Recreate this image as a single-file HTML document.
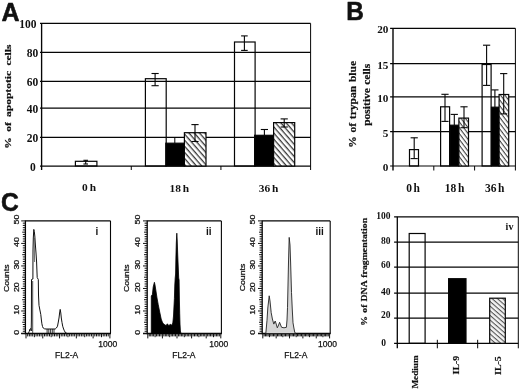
<!DOCTYPE html>
<html><head><meta charset="utf-8"><title>Figure</title>
<style>
html,body{margin:0;padding:0;background:#fff;}
body{width:520px;height:390px;overflow:hidden;}
svg{display:block;filter:blur(0.35px);}
</style></head>
<body>
<svg width="520" height="390" viewBox="0 0 520 390">
<rect x="0" y="0" width="520" height="390" fill="#fff"/>
<defs>
<pattern id="hA" patternUnits="userSpaceOnUse" width="4" height="4" patternTransform="rotate(49)">
<rect width="4" height="4" fill="#fff"/><line x1="0" y1="0.7" x2="4" y2="0.7" stroke="#1a1a1a" stroke-width="1.15"/></pattern>
<pattern id="hB" patternUnits="userSpaceOnUse" width="3.5" height="3.5" patternTransform="rotate(53)">
<rect width="3.5" height="3.5" fill="#fff"/><line x1="0" y1="0.6" x2="3.5" y2="0.6" stroke="#222" stroke-width="0.95"/></pattern>
<pattern id="hD" patternUnits="userSpaceOnUse" width="3.5" height="3.5" patternTransform="rotate(41)">
<rect width="3.5" height="3.5" fill="#f4f4f4"/><line x1="0" y1="0.6" x2="3.5" y2="0.6" stroke="#333" stroke-width="0.9"/></pattern>
</defs>
<text x="1.50" y="20.70" font-family='"Liberation Sans", sans-serif' font-size="25.0" font-weight="bold" text-anchor="start" fill="#111" stroke="#111" stroke-width="0.55" stroke-linejoin="round">A</text>
<text transform="translate(346.30 20.00) scale(0.96 1)" x="0" y="0" font-family='"Liberation Sans", sans-serif' font-size="25.4" font-weight="bold" text-anchor="start" fill="#111" stroke="#111" stroke-width="0.55" stroke-linejoin="round">B</text>
<text transform="translate(1.00 211.10) scale(0.97 1)" x="0" y="0" font-family='"Liberation Sans", sans-serif' font-size="25.4" font-weight="bold" text-anchor="start" fill="#111" stroke="#111" stroke-width="0.55" stroke-linejoin="round">C</text>
<line x1="40.00" y1="23.40" x2="310.60" y2="23.40" stroke="#050505" stroke-width="1.25"/>
<line x1="40.00" y1="52.40" x2="310.60" y2="52.40" stroke="#050505" stroke-width="1.25"/>
<line x1="40.00" y1="81.30" x2="310.60" y2="81.30" stroke="#050505" stroke-width="1.25"/>
<line x1="40.00" y1="108.10" x2="310.60" y2="108.10" stroke="#050505" stroke-width="1.25"/>
<line x1="40.00" y1="137.40" x2="310.60" y2="137.40" stroke="#050505" stroke-width="1.25"/>
<line x1="40.00" y1="166.00" x2="310.60" y2="166.00" stroke="#050505" stroke-width="1.25"/>
<line x1="41.60" y1="23.40" x2="41.60" y2="170.00" stroke="#050505" stroke-width="1.35"/>
<line x1="310.60" y1="23.40" x2="310.60" y2="170.00" stroke="#050505" stroke-width="1.0"/>
<line x1="131.27" y1="166.00" x2="131.27" y2="170.00" stroke="#050505" stroke-width="1.0"/>
<line x1="220.93" y1="166.00" x2="220.93" y2="170.00" stroke="#050505" stroke-width="1.0"/>
<text x="36.40" y="28.20" font-family='"Liberation Serif", serif' font-size="11.5" font-weight="bold" text-anchor="end" fill="#111">100</text>
<text x="38.30" y="57.10" font-family='"Liberation Serif", serif' font-size="11.5" font-weight="bold" text-anchor="end" fill="#111">80</text>
<text x="38.30" y="86.00" font-family='"Liberation Serif", serif' font-size="11.5" font-weight="bold" text-anchor="end" fill="#111">60</text>
<text x="38.30" y="112.80" font-family='"Liberation Serif", serif' font-size="11.5" font-weight="bold" text-anchor="end" fill="#111">40</text>
<text x="38.30" y="142.10" font-family='"Liberation Serif", serif' font-size="11.5" font-weight="bold" text-anchor="end" fill="#111">20</text>
<text x="35.70" y="171.00" font-family='"Liberation Serif", serif' font-size="11.5" font-weight="bold" text-anchor="end" fill="#111">0</text>
<rect x="75.40" y="161.30" width="21.50" height="4.70" fill="none" stroke="#050505" stroke-width="1.2"/>
<line x1="85.70" y1="160.30" x2="85.70" y2="164.00" stroke="#050505" stroke-width="1.1"/>
<line x1="83.40" y1="160.30" x2="88.00" y2="160.30" stroke="#050505" stroke-width="1.1"/>
<line x1="83.40" y1="164.00" x2="88.00" y2="164.00" stroke="#050505" stroke-width="1.1"/>
<rect x="145.40" y="78.70" width="20.80" height="87.30" fill="none" stroke="#050505" stroke-width="1.2"/>
<line x1="155.10" y1="73.50" x2="155.10" y2="85.70" stroke="#050505" stroke-width="1.1"/>
<line x1="151.50" y1="73.50" x2="158.70" y2="73.50" stroke="#050505" stroke-width="1.1"/>
<line x1="151.50" y1="85.70" x2="158.70" y2="85.70" stroke="#050505" stroke-width="1.1"/>
<rect x="165.80" y="143.20" width="18.60" height="22.80" fill="#000" stroke="#050505" stroke-width="1.2"/>
<line x1="174.80" y1="137.70" x2="174.80" y2="143.20" stroke="#050505" stroke-width="1.0"/>
<rect x="184.40" y="132.70" width="21.60" height="33.30" fill="url(#hA)" stroke="#050505" stroke-width="1.2"/>
<line x1="195.00" y1="124.60" x2="195.00" y2="141.50" stroke="#050505" stroke-width="1.1"/>
<line x1="191.40" y1="124.60" x2="198.60" y2="124.60" stroke="#050505" stroke-width="1.1"/>
<line x1="191.40" y1="141.50" x2="198.60" y2="141.50" stroke="#050505" stroke-width="1.1"/>
<rect x="234.50" y="42.00" width="20.60" height="124.00" fill="none" stroke="#050505" stroke-width="1.2"/>
<line x1="244.40" y1="35.90" x2="244.40" y2="50.40" stroke="#050505" stroke-width="1.1"/>
<line x1="241.10" y1="35.90" x2="247.70" y2="35.90" stroke="#050505" stroke-width="1.1"/>
<line x1="241.10" y1="50.40" x2="247.70" y2="50.40" stroke="#050505" stroke-width="1.1"/>
<rect x="254.60" y="135.30" width="19.00" height="30.70" fill="#000" stroke="#050505" stroke-width="1.2"/>
<line x1="264.40" y1="129.50" x2="264.40" y2="135.30" stroke="#050505" stroke-width="1.1"/>
<line x1="260.80" y1="129.50" x2="268.00" y2="129.50" stroke="#050505" stroke-width="1.1"/>
<rect x="273.60" y="122.60" width="21.10" height="43.40" fill="url(#hA)" stroke="#050505" stroke-width="1.2"/>
<line x1="284.20" y1="118.90" x2="284.20" y2="127.00" stroke="#050505" stroke-width="1.1"/>
<line x1="280.60" y1="118.90" x2="287.80" y2="118.90" stroke="#050505" stroke-width="1.1"/>
<line x1="280.60" y1="127.00" x2="287.80" y2="127.00" stroke="#050505" stroke-width="1.1"/>
<text x="89.00" y="190.90" font-family='"Liberation Serif", serif' font-size="11.4" font-weight="bold" text-anchor="middle" fill="#111" word-spacing="-0.8">0 h</text>
<text x="179.40" y="191.80" font-family='"Liberation Serif", serif' font-size="11.4" font-weight="bold" text-anchor="middle" fill="#111" word-spacing="-1">18 h</text>
<text x="268.60" y="191.80" font-family='"Liberation Serif", serif' font-size="11.4" font-weight="bold" text-anchor="middle" fill="#111" word-spacing="-1">36 h</text>
<text transform="translate(10.80 96.60) rotate(-90) scale(1.28 1)" x="0" y="0" font-family='"Liberation Serif", serif' font-size="9.0" font-weight="bold" text-anchor="middle" fill="#111" word-spacing="1.9" stroke="#111" stroke-width="0.2">% of apoptotic cells</text>
<line x1="390.10" y1="28.30" x2="515.40" y2="28.30" stroke="#050505" stroke-width="1.2"/>
<line x1="390.10" y1="63.60" x2="515.40" y2="63.60" stroke="#050505" stroke-width="1.2"/>
<line x1="390.10" y1="96.80" x2="515.40" y2="96.80" stroke="#050505" stroke-width="1.2"/>
<line x1="390.10" y1="131.70" x2="515.40" y2="131.70" stroke="#050505" stroke-width="1.2"/>
<line x1="390.10" y1="166.00" x2="515.40" y2="166.00" stroke="#050505" stroke-width="1.2"/>
<line x1="393.00" y1="28.30" x2="393.00" y2="170.50" stroke="#050505" stroke-width="1.4"/>
<line x1="515.40" y1="28.30" x2="515.40" y2="170.50" stroke="#050505" stroke-width="1.0"/>
<line x1="433.80" y1="166.00" x2="433.80" y2="170.50" stroke="#050505" stroke-width="1.0"/>
<line x1="474.60" y1="166.00" x2="474.60" y2="170.50" stroke="#050505" stroke-width="1.0"/>
<text x="388.40" y="33.20" font-family='"Liberation Serif", serif' font-size="11.2" font-weight="bold" text-anchor="end" fill="#111">20</text>
<text x="388.40" y="68.50" font-family='"Liberation Serif", serif' font-size="11.2" font-weight="bold" text-anchor="end" fill="#111">15</text>
<text x="388.40" y="101.70" font-family='"Liberation Serif", serif' font-size="11.2" font-weight="bold" text-anchor="end" fill="#111">10</text>
<text x="388.40" y="136.60" font-family='"Liberation Serif", serif' font-size="11.2" font-weight="bold" text-anchor="end" fill="#111">5</text>
<text x="388.40" y="170.90" font-family='"Liberation Serif", serif' font-size="11.2" font-weight="bold" text-anchor="end" fill="#111">0</text>
<rect x="409.50" y="149.60" width="9.00" height="16.40" fill="none" stroke="#050505" stroke-width="1.2"/>
<line x1="414.20" y1="137.80" x2="414.20" y2="158.60" stroke="#050505" stroke-width="1.1"/>
<line x1="410.60" y1="137.80" x2="417.80" y2="137.80" stroke="#050505" stroke-width="1.1"/>
<line x1="410.60" y1="158.60" x2="417.80" y2="158.60" stroke="#050505" stroke-width="1.1"/>
<rect x="440.60" y="106.80" width="9.00" height="59.20" fill="none" stroke="#050505" stroke-width="1.2"/>
<line x1="445.00" y1="94.30" x2="445.00" y2="121.40" stroke="#050505" stroke-width="1.1"/>
<line x1="441.40" y1="94.30" x2="448.60" y2="94.30" stroke="#050505" stroke-width="1.1"/>
<line x1="441.40" y1="121.40" x2="448.60" y2="121.40" stroke="#050505" stroke-width="1.1"/>
<rect x="450.00" y="125.20" width="8.60" height="40.80" fill="#000" stroke="#050505" stroke-width="1.2"/>
<line x1="454.30" y1="114.40" x2="454.30" y2="125.20" stroke="#050505" stroke-width="1.1"/>
<line x1="450.70" y1="114.40" x2="457.90" y2="114.40" stroke="#050505" stroke-width="1.1"/>
<rect x="458.90" y="118.10" width="9.60" height="47.90" fill="url(#hB)" stroke="#050505" stroke-width="1.2"/>
<line x1="464.00" y1="106.80" x2="464.00" y2="127.70" stroke="#050505" stroke-width="1.1"/>
<line x1="460.40" y1="106.80" x2="467.60" y2="106.80" stroke="#050505" stroke-width="1.1"/>
<line x1="460.40" y1="127.70" x2="467.60" y2="127.70" stroke="#050505" stroke-width="1.1"/>
<rect x="482.10" y="64.50" width="9.00" height="101.50" fill="none" stroke="#050505" stroke-width="1.2"/>
<line x1="486.60" y1="45.20" x2="486.60" y2="85.40" stroke="#050505" stroke-width="1.1"/>
<line x1="483.00" y1="45.20" x2="490.20" y2="45.20" stroke="#050505" stroke-width="1.1"/>
<line x1="483.00" y1="85.40" x2="490.20" y2="85.40" stroke="#050505" stroke-width="1.1"/>
<rect x="491.50" y="107.20" width="7.60" height="58.80" fill="#000" stroke="#050505" stroke-width="1.2"/>
<line x1="494.90" y1="89.90" x2="494.90" y2="107.20" stroke="#050505" stroke-width="1.1"/>
<line x1="491.30" y1="89.90" x2="498.50" y2="89.90" stroke="#050505" stroke-width="1.1"/>
<rect x="499.10" y="94.50" width="9.60" height="71.50" fill="url(#hB)" stroke="#050505" stroke-width="1.2"/>
<line x1="503.70" y1="73.60" x2="503.70" y2="113.90" stroke="#050505" stroke-width="1.1"/>
<line x1="500.10" y1="73.60" x2="507.30" y2="73.60" stroke="#050505" stroke-width="1.1"/>
<line x1="500.10" y1="113.90" x2="507.30" y2="113.90" stroke="#050505" stroke-width="1.1"/>
<text x="413.10" y="192.30" font-family='"Liberation Serif", serif' font-size="11.5" font-weight="bold" text-anchor="middle" fill="#111" word-spacing="-1.2">0 h</text>
<text x="454.60" y="192.30" font-family='"Liberation Serif", serif' font-size="11.5" font-weight="bold" text-anchor="middle" fill="#111" word-spacing="-1.2">18 h</text>
<text x="494.70" y="192.30" font-family='"Liberation Serif", serif' font-size="11.5" font-weight="bold" text-anchor="middle" fill="#111" word-spacing="-1.2">36 h</text>
<text transform="translate(356.00 104.35) rotate(-90) scale(1.18 1)" x="0" y="0" font-family='"Liberation Serif", serif' font-size="9.8" font-weight="bold" text-anchor="middle" fill="#111" word-spacing="0.7" stroke="#111" stroke-width="0.2">% of trypan blue</text>
<text transform="translate(370.20 94.75) rotate(-90) scale(1.2 1)" x="0" y="0" font-family='"Liberation Serif", serif' font-size="9.6" font-weight="bold" text-anchor="middle" fill="#111" word-spacing="0.3" stroke="#111" stroke-width="0.2">positive cells</text>
<line x1="25.40" y1="220.90" x2="110.50" y2="220.90" stroke="#050505" stroke-width="1.1"/>
<line x1="110.50" y1="220.90" x2="110.50" y2="333.50" stroke="#050505" stroke-width="1.1"/>
<line x1="25.40" y1="220.40" x2="25.40" y2="334.20" stroke="#050505" stroke-width="1.3"/>
<line x1="21.20" y1="333.50" x2="111.00" y2="333.50" stroke="#050505" stroke-width="1.4"/>
<path d="M21.20 220.90H25.40M22.80 223.15H25.40M22.80 225.40H25.40M22.80 227.66H25.40M22.80 229.91H25.40M22.20 232.16H25.40M22.80 234.41H25.40M22.80 236.66H25.40M22.80 238.92H25.40M22.80 241.17H25.40M21.20 243.42H25.40M22.80 245.67H25.40M22.80 247.92H25.40M22.80 250.18H25.40M22.80 252.43H25.40M22.20 254.68H25.40M22.80 256.93H25.40M22.80 259.18H25.40M22.80 261.44H25.40M22.80 263.69H25.40M21.20 265.94H25.40M22.80 268.19H25.40M22.80 270.44H25.40M22.80 272.70H25.40M22.80 274.95H25.40M22.20 277.20H25.40M22.80 279.45H25.40M22.80 281.70H25.40M22.80 283.96H25.40M22.80 286.21H25.40M21.20 288.46H25.40M22.80 290.71H25.40M22.80 292.96H25.40M22.80 295.22H25.40M22.80 297.47H25.40M22.20 299.72H25.40M22.80 301.97H25.40M22.80 304.22H25.40M22.80 306.48H25.40M22.80 308.73H25.40M21.20 310.98H25.40M22.80 313.23H25.40M22.80 315.48H25.40M22.80 317.74H25.40M22.80 319.99H25.40M22.20 322.24H25.40M22.80 324.49H25.40M22.80 326.74H25.40M22.80 329.00H25.40M22.80 331.25H25.40M21.20 333.50H25.40M26.00 333.50V338.40M27.68 333.50V336.40M29.36 333.50V336.40M31.03 333.50V336.40M32.71 333.50V336.40M34.39 333.50V337.20M36.07 333.50V336.40M37.75 333.50V336.40M39.42 333.50V336.40M41.10 333.50V336.40M42.78 333.50V338.40M44.46 333.50V336.40M46.14 333.50V336.40M47.81 333.50V336.40M49.49 333.50V336.40M51.17 333.50V337.20M52.85 333.50V336.40M54.53 333.50V336.40M56.20 333.50V336.40M57.88 333.50V336.40M59.56 333.50V338.40M61.24 333.50V336.40M62.92 333.50V336.40M64.59 333.50V336.40M66.27 333.50V336.40M67.95 333.50V337.20M69.63 333.50V336.40M71.31 333.50V336.40M72.98 333.50V336.40M74.66 333.50V336.40M76.34 333.50V338.40M78.02 333.50V336.40M79.70 333.50V336.40M81.37 333.50V336.40M83.05 333.50V336.40M84.73 333.50V337.20M86.41 333.50V336.40M88.09 333.50V336.40M89.76 333.50V336.40M91.44 333.50V336.40M93.12 333.50V338.40M94.80 333.50V336.40M96.48 333.50V336.40M98.15 333.50V336.40M99.83 333.50V336.40M101.51 333.50V337.20M103.19 333.50V336.40M104.87 333.50V336.40M106.54 333.50V336.40M108.22 333.50V336.40M109.90 333.50V338.40" stroke="#111" stroke-width="1.0" fill="none"/>
<text transform="translate(18.50 219.60) rotate(-90) scale(1.16 1)" x="0" y="0" font-family='"Liberation Sans", sans-serif' font-size="7.7" font-weight="normal" text-anchor="middle" fill="#111" stroke="#111" stroke-width="0.25">50</text>
<text transform="translate(18.50 242.12) rotate(-90) scale(1.16 1)" x="0" y="0" font-family='"Liberation Sans", sans-serif' font-size="7.7" font-weight="normal" text-anchor="middle" fill="#111" stroke="#111" stroke-width="0.25">40</text>
<text transform="translate(18.50 264.64) rotate(-90) scale(1.16 1)" x="0" y="0" font-family='"Liberation Sans", sans-serif' font-size="7.7" font-weight="normal" text-anchor="middle" fill="#111" stroke="#111" stroke-width="0.25">30</text>
<text transform="translate(18.50 287.16) rotate(-90) scale(1.16 1)" x="0" y="0" font-family='"Liberation Sans", sans-serif' font-size="7.7" font-weight="normal" text-anchor="middle" fill="#111" stroke="#111" stroke-width="0.25">20</text>
<text transform="translate(18.50 309.68) rotate(-90) scale(1.16 1)" x="0" y="0" font-family='"Liberation Sans", sans-serif' font-size="7.7" font-weight="normal" text-anchor="middle" fill="#111" stroke="#111" stroke-width="0.25">10</text>
<text transform="translate(18.50 332.20) rotate(-90) scale(1.16 1)" x="0" y="0" font-family='"Liberation Sans", sans-serif' font-size="7.7" font-weight="normal" text-anchor="middle" fill="#111" stroke="#111" stroke-width="0.25">0</text>
<text transform="translate(9.00 278.30) rotate(-90) scale(1.09 1)" x="0" y="0" font-family='"Liberation Sans", sans-serif' font-size="8.0" font-weight="normal" text-anchor="middle" fill="#111" stroke="#111" stroke-width="0.25">Counts</text>
<text x="107.80" y="346.80" font-family='"Liberation Sans", sans-serif' font-size="8.5" font-weight="normal" text-anchor="middle" fill="#111" stroke="#111" stroke-width="0.25">1000</text>
<text x="66.65" y="357.90" font-family='"Liberation Sans", sans-serif' font-size="8.5" font-weight="normal" text-anchor="middle" fill="#111" stroke="#111" stroke-width="0.25">FL2-A</text>
<text x="97.00" y="235.20" font-family='"Liberation Sans", sans-serif' font-size="10" font-weight="bold" text-anchor="middle" fill="#111">i</text>
<polyline fill="none" stroke="#111" stroke-width="1.0" stroke-linejoin="round" points="28.4,333.3 29.2,331.5 30.0,329 30.8,328.6 31.2,331 31.4,320 31.5,279.5 32.9,279 33.0,250 33.3,238 33.8,229.4 34.3,231.5 34.8,236 35.4,245 36.0,253 36.6,262 37.2,277.5 38.3,279.5 38.5,295 39.0,305.4 39.9,310 40.8,314.6 41.4,320 41.9,323.8 42.5,326.5 43.2,328 44.5,328.8 46.0,329 55.2,329 56.4,328 57.5,326.2 58.3,322 59.0,318 59.6,313 60.2,309.4 60.8,313 61.3,318 62.0,322.5 62.7,326.2 63.6,329 64.4,330.8 65.6,333 67,333.3"/>
<line x1="32.70" y1="333.00" x2="32.70" y2="281.00" stroke="#222" stroke-width="0.8"/>
<line x1="47.10" y1="329.00" x2="47.10" y2="333.30" stroke="#111" stroke-width="0.85"/>
<line x1="48.80" y1="329.00" x2="48.80" y2="333.30" stroke="#111" stroke-width="0.85"/>
<line x1="50.60" y1="329.00" x2="50.60" y2="333.30" stroke="#111" stroke-width="0.85"/>
<line x1="52.30" y1="329.00" x2="52.30" y2="333.30" stroke="#111" stroke-width="0.85"/>
<line x1="54.00" y1="329.00" x2="54.00" y2="333.30" stroke="#111" stroke-width="0.85"/>
<line x1="34.60" y1="262.00" x2="34.20" y2="238.00" stroke="#333" stroke-width="0.7"/>
<line x1="147.20" y1="220.90" x2="221.40" y2="220.90" stroke="#050505" stroke-width="1.1"/>
<line x1="221.40" y1="220.90" x2="221.40" y2="333.50" stroke="#050505" stroke-width="1.1"/>
<line x1="147.20" y1="220.40" x2="147.20" y2="334.20" stroke="#050505" stroke-width="1.3"/>
<line x1="143.00" y1="333.50" x2="221.90" y2="333.50" stroke="#050505" stroke-width="1.4"/>
<path d="M143.00 220.90H147.20M144.60 223.15H147.20M144.60 225.40H147.20M144.60 227.66H147.20M144.60 229.91H147.20M144.00 232.16H147.20M144.60 234.41H147.20M144.60 236.66H147.20M144.60 238.92H147.20M144.60 241.17H147.20M143.00 243.42H147.20M144.60 245.67H147.20M144.60 247.92H147.20M144.60 250.18H147.20M144.60 252.43H147.20M144.00 254.68H147.20M144.60 256.93H147.20M144.60 259.18H147.20M144.60 261.44H147.20M144.60 263.69H147.20M143.00 265.94H147.20M144.60 268.19H147.20M144.60 270.44H147.20M144.60 272.70H147.20M144.60 274.95H147.20M144.00 277.20H147.20M144.60 279.45H147.20M144.60 281.70H147.20M144.60 283.96H147.20M144.60 286.21H147.20M143.00 288.46H147.20M144.60 290.71H147.20M144.60 292.96H147.20M144.60 295.22H147.20M144.60 297.47H147.20M144.00 299.72H147.20M144.60 301.97H147.20M144.60 304.22H147.20M144.60 306.48H147.20M144.60 308.73H147.20M143.00 310.98H147.20M144.60 313.23H147.20M144.60 315.48H147.20M144.60 317.74H147.20M144.60 319.99H147.20M144.00 322.24H147.20M144.60 324.49H147.20M144.60 326.74H147.20M144.60 329.00H147.20M144.60 331.25H147.20M143.00 333.50H147.20M147.80 333.50V338.40M149.26 333.50V336.40M150.72 333.50V336.40M152.18 333.50V336.40M153.64 333.50V336.40M155.10 333.50V337.20M156.56 333.50V336.40M158.02 333.50V336.40M159.48 333.50V336.40M160.94 333.50V336.40M162.40 333.50V338.40M163.86 333.50V336.40M165.32 333.50V336.40M166.78 333.50V336.40M168.24 333.50V336.40M169.70 333.50V337.20M171.16 333.50V336.40M172.62 333.50V336.40M174.08 333.50V336.40M175.54 333.50V336.40M177.00 333.50V338.40M178.46 333.50V336.40M179.92 333.50V336.40M181.38 333.50V336.40M182.84 333.50V336.40M184.30 333.50V337.20M185.76 333.50V336.40M187.22 333.50V336.40M188.68 333.50V336.40M190.14 333.50V336.40M191.60 333.50V338.40M193.06 333.50V336.40M194.52 333.50V336.40M195.98 333.50V336.40M197.44 333.50V336.40M198.90 333.50V337.20M200.36 333.50V336.40M201.82 333.50V336.40M203.28 333.50V336.40M204.74 333.50V336.40M206.20 333.50V338.40M207.66 333.50V336.40M209.12 333.50V336.40M210.58 333.50V336.40M212.04 333.50V336.40M213.50 333.50V337.20M214.96 333.50V336.40M216.42 333.50V336.40M217.88 333.50V336.40M219.34 333.50V336.40M220.80 333.50V338.40" stroke="#111" stroke-width="1.0" fill="none"/>
<text transform="translate(140.30 219.60) rotate(-90) scale(1.16 1)" x="0" y="0" font-family='"Liberation Sans", sans-serif' font-size="7.7" font-weight="normal" text-anchor="middle" fill="#111" stroke="#111" stroke-width="0.25">50</text>
<text transform="translate(140.30 242.12) rotate(-90) scale(1.16 1)" x="0" y="0" font-family='"Liberation Sans", sans-serif' font-size="7.7" font-weight="normal" text-anchor="middle" fill="#111" stroke="#111" stroke-width="0.25">40</text>
<text transform="translate(140.30 264.64) rotate(-90) scale(1.16 1)" x="0" y="0" font-family='"Liberation Sans", sans-serif' font-size="7.7" font-weight="normal" text-anchor="middle" fill="#111" stroke="#111" stroke-width="0.25">30</text>
<text transform="translate(140.30 287.16) rotate(-90) scale(1.16 1)" x="0" y="0" font-family='"Liberation Sans", sans-serif' font-size="7.7" font-weight="normal" text-anchor="middle" fill="#111" stroke="#111" stroke-width="0.25">20</text>
<text transform="translate(140.30 309.68) rotate(-90) scale(1.16 1)" x="0" y="0" font-family='"Liberation Sans", sans-serif' font-size="7.7" font-weight="normal" text-anchor="middle" fill="#111" stroke="#111" stroke-width="0.25">10</text>
<text transform="translate(140.30 332.20) rotate(-90) scale(1.16 1)" x="0" y="0" font-family='"Liberation Sans", sans-serif' font-size="7.7" font-weight="normal" text-anchor="middle" fill="#111" stroke="#111" stroke-width="0.25">0</text>
<text transform="translate(129.40 278.30) rotate(-90) scale(1.09 1)" x="0" y="0" font-family='"Liberation Sans", sans-serif' font-size="8.0" font-weight="normal" text-anchor="middle" fill="#111" stroke="#111" stroke-width="0.25">Counts</text>
<text x="218.70" y="346.80" font-family='"Liberation Sans", sans-serif' font-size="8.5" font-weight="normal" text-anchor="middle" fill="#111" stroke="#111" stroke-width="0.25">1000</text>
<text x="183.90" y="357.90" font-family='"Liberation Sans", sans-serif' font-size="8.5" font-weight="normal" text-anchor="middle" fill="#111" stroke="#111" stroke-width="0.25">FL2-A</text>
<text x="208.80" y="235.20" font-family='"Liberation Sans", sans-serif' font-size="10" font-weight="bold" text-anchor="middle" fill="#111">ii</text>
<polygon fill="#000" stroke="#000" stroke-width="0.8" stroke-linejoin="round" points="151.3,333.5 151.3,296 152.4,294.5 153.2,287 154.4,282.3 155.0,285 155.8,290 157.0,298 158.2,304.4 159.7,312 161.2,319.1 162.3,322 163.2,323.6 164.6,324.6 166,325.6 167.4,323.8 168.8,325.8 170.2,324.2 171.8,325.2 172.8,323 173.5,316 174.0,306 174.4,298.5 174.8,285 175.2,278 175.6,274 175.9,258 176.3,243 176.8,233.2 177.2,240 177.7,254 178.2,266 178.7,278 179.1,280 179.4,300 179.7,313.2 180.0,324 180.4,331 181,333.5"/>
<line x1="262.20" y1="220.90" x2="330.20" y2="220.90" stroke="#050505" stroke-width="1.1"/>
<line x1="330.20" y1="220.90" x2="330.20" y2="333.50" stroke="#050505" stroke-width="1.1"/>
<line x1="262.20" y1="220.40" x2="262.20" y2="334.20" stroke="#050505" stroke-width="1.3"/>
<line x1="258.00" y1="333.50" x2="330.70" y2="333.50" stroke="#050505" stroke-width="1.4"/>
<path d="M258.00 220.90H262.20M259.60 223.15H262.20M259.60 225.40H262.20M259.60 227.66H262.20M259.60 229.91H262.20M259.00 232.16H262.20M259.60 234.41H262.20M259.60 236.66H262.20M259.60 238.92H262.20M259.60 241.17H262.20M258.00 243.42H262.20M259.60 245.67H262.20M259.60 247.92H262.20M259.60 250.18H262.20M259.60 252.43H262.20M259.00 254.68H262.20M259.60 256.93H262.20M259.60 259.18H262.20M259.60 261.44H262.20M259.60 263.69H262.20M258.00 265.94H262.20M259.60 268.19H262.20M259.60 270.44H262.20M259.60 272.70H262.20M259.60 274.95H262.20M259.00 277.20H262.20M259.60 279.45H262.20M259.60 281.70H262.20M259.60 283.96H262.20M259.60 286.21H262.20M258.00 288.46H262.20M259.60 290.71H262.20M259.60 292.96H262.20M259.60 295.22H262.20M259.60 297.47H262.20M259.00 299.72H262.20M259.60 301.97H262.20M259.60 304.22H262.20M259.60 306.48H262.20M259.60 308.73H262.20M258.00 310.98H262.20M259.60 313.23H262.20M259.60 315.48H262.20M259.60 317.74H262.20M259.60 319.99H262.20M259.00 322.24H262.20M259.60 324.49H262.20M259.60 326.74H262.20M259.60 329.00H262.20M259.60 331.25H262.20M258.00 333.50H262.20M262.80 333.50V338.40M264.14 333.50V336.40M265.47 333.50V336.40M266.81 333.50V336.40M268.14 333.50V336.40M269.48 333.50V337.20M270.82 333.50V336.40M272.15 333.50V336.40M273.49 333.50V336.40M274.82 333.50V336.40M276.16 333.50V338.40M277.50 333.50V336.40M278.83 333.50V336.40M280.17 333.50V336.40M281.50 333.50V336.40M282.84 333.50V337.20M284.18 333.50V336.40M285.51 333.50V336.40M286.85 333.50V336.40M288.18 333.50V336.40M289.52 333.50V338.40M290.86 333.50V336.40M292.19 333.50V336.40M293.53 333.50V336.40M294.86 333.50V336.40M296.20 333.50V337.20M297.54 333.50V336.40M298.87 333.50V336.40M300.21 333.50V336.40M301.54 333.50V336.40M302.88 333.50V338.40M304.22 333.50V336.40M305.55 333.50V336.40M306.89 333.50V336.40M308.22 333.50V336.40M309.56 333.50V337.20M310.90 333.50V336.40M312.23 333.50V336.40M313.57 333.50V336.40M314.90 333.50V336.40M316.24 333.50V338.40M317.58 333.50V336.40M318.91 333.50V336.40M320.25 333.50V336.40M321.58 333.50V336.40M322.92 333.50V337.20M324.26 333.50V336.40M325.59 333.50V336.40M326.93 333.50V336.40M328.26 333.50V336.40M329.60 333.50V338.40" stroke="#111" stroke-width="1.0" fill="none"/>
<text transform="translate(255.30 219.60) rotate(-90) scale(1.16 1)" x="0" y="0" font-family='"Liberation Sans", sans-serif' font-size="7.7" font-weight="normal" text-anchor="middle" fill="#111" stroke="#111" stroke-width="0.25">50</text>
<text transform="translate(255.30 242.12) rotate(-90) scale(1.16 1)" x="0" y="0" font-family='"Liberation Sans", sans-serif' font-size="7.7" font-weight="normal" text-anchor="middle" fill="#111" stroke="#111" stroke-width="0.25">40</text>
<text transform="translate(255.30 264.64) rotate(-90) scale(1.16 1)" x="0" y="0" font-family='"Liberation Sans", sans-serif' font-size="7.7" font-weight="normal" text-anchor="middle" fill="#111" stroke="#111" stroke-width="0.25">30</text>
<text transform="translate(255.30 287.16) rotate(-90) scale(1.16 1)" x="0" y="0" font-family='"Liberation Sans", sans-serif' font-size="7.7" font-weight="normal" text-anchor="middle" fill="#111" stroke="#111" stroke-width="0.25">20</text>
<text transform="translate(255.30 309.68) rotate(-90) scale(1.16 1)" x="0" y="0" font-family='"Liberation Sans", sans-serif' font-size="7.7" font-weight="normal" text-anchor="middle" fill="#111" stroke="#111" stroke-width="0.25">10</text>
<text transform="translate(255.30 332.20) rotate(-90) scale(1.16 1)" x="0" y="0" font-family='"Liberation Sans", sans-serif' font-size="7.7" font-weight="normal" text-anchor="middle" fill="#111" stroke="#111" stroke-width="0.25">0</text>
<text transform="translate(244.60 277.50) rotate(-90) scale(1.09 1)" x="0" y="0" font-family='"Liberation Sans", sans-serif' font-size="8.0" font-weight="normal" text-anchor="middle" fill="#111" stroke="#111" stroke-width="0.25">Counts</text>
<text x="327.50" y="346.80" font-family='"Liberation Sans", sans-serif' font-size="8.5" font-weight="normal" text-anchor="middle" fill="#111" stroke="#111" stroke-width="0.25">1000</text>
<text x="295.80" y="357.90" font-family='"Liberation Sans", sans-serif' font-size="8.5" font-weight="normal" text-anchor="middle" fill="#111" stroke="#111" stroke-width="0.25">FL2-A</text>
<text x="319.60" y="235.20" font-family='"Liberation Sans", sans-serif' font-size="10" font-weight="bold" text-anchor="middle" fill="#111">iii</text>
<polygon fill="#d6d6d6" stroke="#222" stroke-width="0.9" stroke-linejoin="round" points="265.8,333.5 266.4,327 267.0,320.3 267.8,308 269.2,295.8 270.0,301 271.2,312.7 272.4,319 273.8,324.1 275.2,321 276.2,324 277.3,327.8 278.6,325 279.6,322.3 280.6,325 281.6,327.3 284,327.8 286.4,327.3 287.0,320 287.5,307.7 288.0,285 288.5,262 289.2,237.4 290.0,245 290.6,262 291.5,292.6 292.3,310 293.0,322.8 293.9,328 294.8,332.6 296.0,333.5"/>
<line x1="394.10" y1="216.80" x2="518.30" y2="216.80" stroke="#050505" stroke-width="1.2"/>
<line x1="394.10" y1="242.20" x2="518.30" y2="242.20" stroke="#050505" stroke-width="1.2"/>
<line x1="394.10" y1="267.10" x2="518.30" y2="267.10" stroke="#050505" stroke-width="1.2"/>
<line x1="394.10" y1="293.10" x2="518.30" y2="293.10" stroke="#050505" stroke-width="1.2"/>
<line x1="394.10" y1="318.20" x2="518.30" y2="318.20" stroke="#050505" stroke-width="1.2"/>
<line x1="394.10" y1="343.30" x2="518.30" y2="343.30" stroke="#050505" stroke-width="1.2"/>
<line x1="397.30" y1="216.80" x2="397.30" y2="348.30" stroke="#050505" stroke-width="1.3"/>
<line x1="518.30" y1="216.80" x2="518.30" y2="348.30" stroke="#050505" stroke-width="1.0"/>
<line x1="437.33" y1="339.80" x2="437.33" y2="348.30" stroke="#050505" stroke-width="1.0"/>
<line x1="477.67" y1="339.80" x2="477.67" y2="348.30" stroke="#050505" stroke-width="1.0"/>
<text x="390.50" y="219.40" font-family='"Liberation Serif", serif' font-size="9.5" font-weight="bold" text-anchor="end" fill="#111">100</text>
<text x="390.50" y="244.30" font-family='"Liberation Serif", serif' font-size="9.5" font-weight="bold" text-anchor="end" fill="#111">80</text>
<text x="390.50" y="268.10" font-family='"Liberation Serif", serif' font-size="9.5" font-weight="bold" text-anchor="end" fill="#111">60</text>
<text x="390.50" y="294.80" font-family='"Liberation Serif", serif' font-size="9.5" font-weight="bold" text-anchor="end" fill="#111">40</text>
<text x="390.50" y="317.70" font-family='"Liberation Serif", serif' font-size="9.5" font-weight="bold" text-anchor="end" fill="#111">20</text>
<text x="386.00" y="346.10" font-family='"Liberation Serif", serif' font-size="9.5" font-weight="bold" text-anchor="end" fill="#111">0</text>
<rect x="409.20" y="233.50" width="15.90" height="109.80" fill="none" stroke="#050505" stroke-width="1.2"/>
<rect x="448.60" y="278.70" width="17.40" height="64.60" fill="#000" stroke="#050505" stroke-width="1.2"/>
<rect x="489.70" y="298.20" width="15.60" height="45.10" fill="url(#hD)" stroke="#050505" stroke-width="1.2"/>
<text x="509.50" y="230.40" font-family='"Liberation Serif", serif' font-size="10" font-weight="bold" text-anchor="middle" fill="#111">iv</text>
<text transform="translate(367.40 271.80) rotate(-90) scale(1.18 1)" x="0" y="0" font-family='"Liberation Serif", serif' font-size="8.3" font-weight="bold" text-anchor="middle" fill="#111" word-spacing="0.6" stroke="#111" stroke-width="0.2">% of DNA fragmentation</text>
<text x="418.30" y="388.60" font-family='"Liberation Serif", serif' font-size="9.2" font-weight="bold" text-anchor="start" fill="#111" transform="rotate(-90 418.30 388.60)" stroke="#111" stroke-width="0.2">Medium</text>
<text transform="translate(459.20 374.40) rotate(-90) scale(1.09 1)" x="0" y="0" font-family='"Liberation Serif", serif' font-size="9.1" font-weight="bold" text-anchor="start" fill="#111" stroke="#111" stroke-width="0.2">IL-9</text>
<text transform="translate(501.20 374.90) rotate(-90) scale(1.09 1)" x="0" y="0" font-family='"Liberation Serif", serif' font-size="9.1" font-weight="bold" text-anchor="start" fill="#111" stroke="#111" stroke-width="0.2">IL-5</text>
</svg>
</body></html>
